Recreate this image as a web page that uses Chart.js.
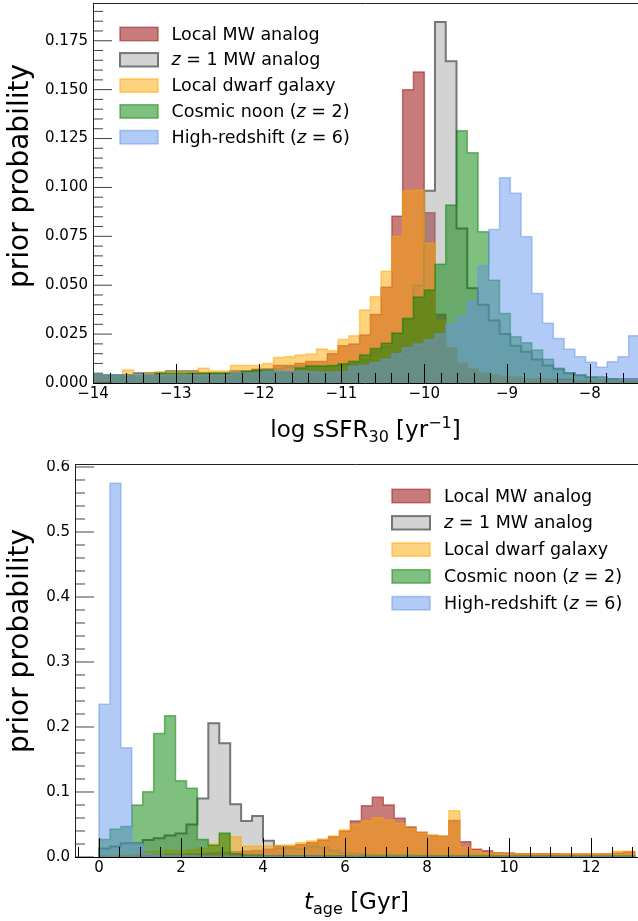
<!DOCTYPE html>
<html><head><meta charset="utf-8">
<script src="https://cdn.jsdelivr.net/npm/chart.js@4.4.1/dist/chart.umd.min.js"></script>
<style>
html,body{margin:0;padding:0;background:#fff;}
#wrap{position:relative;width:638px;height:921px;overflow:hidden;background:#fff;}
canvas{position:absolute;left:0;display:block;}
#c1{top:0;} #c2{top:460px;}
</style></head><body>
<div id="wrap"><canvas id="c1" width="638" height="460"></canvas><canvas id="c2" width="638" height="461"></canvas></div>
<script>
// ---------- data ----------
const seriesLabels = ['Local MW analog', 'z = 1 MW analog', 'Local dwarf galaxy', 'Cosmic noon (z = 2)', 'High-redshift (z = 6)'];

// top panel: log sSFR_30 histogram, bins start at sfrBinStart with width sfrBinWidth
const sfrBinStart = -14.03;
const sfrBinWidth = 0.13;
const sfrLocalMW = [0.003,0.003,0.003,0.004,0.003,0.004,0.004,0.004,0.004,0.005,0.005,
  0.005,0.005,0.006,0.006,0.007,0.007,0.009,0.009,0.010,0.011,
  0.011,0.015,0.019,0.020,0.0245,0.035,0.049,0.0853,0.150,0.159,
  0.087,0.035,0.018,0.010,0.007,0.005,0.004,0.003,0.003,0.002,
  0.002,0.002,0.002,0.002,0.001,0.001,0.001,0.001,0.001,0.001];
const sfrZ1MW = [0.004,0.004,0.004,0.004,0.005,0.005,0.005,0.006,0.006,0.006,0.005,
  0.005,0.005,0.006,0.006,0.006,0.007,0.007,0.008,0.008,0.009,
  0.009,0.0087,0.0095,0.011,0.0118,0.0156,0.0185,0.0254,0.033,0.0497,
  0.0983,0.1846,0.1645,0.079,0.0484,0.040,0.032,0.025,0.019,0.016,
  0.012,0.009,0.007,0.005,0.004,0.003,0.003,0.002,0.002,0.002];
const sfrDwarf = [0.0037,0.0035,0.0035,0.0066,0.0041,0.0049,0.0058,0.0058,0.0058,0.0058,0.0075,
  0.0061,0.0061,0.0089,0.0089,0.009,0.010,0.013,0.0134,0.0143,0.0148,
  0.0174,0.0165,0.0223,0.0242,0.0373,0.0441,0.0572,0.075,0.0983,0.0986,
  0.0714,0.032,0.018,0.010,0.007,0.005,0.004,0.003,0.003,0.002,
  0.002,0.002,0.001,0.001,0.001,0.001,0.001,0.001,0.001,0.001];
const sfrNoon = [0.004,0.004,0.004,0.004,0.004,0.004,0.005,0.005,0.005,0.005,0.005,
  0.005,0.005,0.005,0.006,0.0066,0.0066,0.0058,0.0058,0.0077,0.0087,
  0.0087,0.009,0.0099,0.011,0.0143,0.0177,0.0203,0.0254,0.033,0.044,
  0.0475,0.0607,0.091,0.129,0.1177,0.0773,0.0526,0.0356,0.0237,0.0206,
  0.0169,0.0121,0.0075,0.0053,0.004,0.003,0.002,0.002,0.001,0.001];
const sfrHighz = [0.004,0.004,0.004,0.004,0.004,0.004,0.004,0.004,0.004,0.004,0.004,
  0.004,0.004,0.005,0.005,0.005,0.006,0.006,0.006,0.006,0.0058,
  0.0055,0.0055,0.0058,0.0085,0.009,0.0104,0.0121,0.015,0.018,0.020,
  0.022,0.025,0.030,0.034,0.042,0.060,0.0785,0.105,0.097,0.0748,
  0.0458,0.0305,0.0228,0.0172,0.0134,0.0106,0.008,0.0109,0.0134,0.0242];

// bottom panel: t_age histogram (Gyr)
const ageBinStart = 0;
const ageBinWidth = 4 / 15;
const ageLocalMW = [0.001,0.001,0.002,0.002,0.003,0.003,0.004,0.004,0.005,0.005,
  0.006,0.007,0.008,0.009,0.010,0.012,0.014,0.016,0.019,0.022,
  0.026,0.031,0.040,0.0554,0.079,0.0918,0.080,0.0595,0.046,0.038,
  0.033,0.032,0.056,0.0236,0.0118,0.0097,0.0067,0.006,0.005,0.005,
  0.005,0.005,0.0048,0.0046,0.0046,0.0046,0.005,0.006,0.008];
const ageZ1MW = [0.013,0.016,0.021,0.021,0.026,0.029,0.033,0.036,0.050,0.090,
  0.2056,0.175,0.081,0.0554,0.063,0.025,0.016,0.013,0.012,0.016,
  0.015,0.010,0.006,0.005,0.004,0.003,0.003,0.003,0.003,0.002,
  0.002,0.002,0.002,0.002,0.002,0.002,0.0015,0.0015,0.0015,0.0015,
  0.0015,0.001,0.001,0.001,0.001,0.001,0.001,0.001,0.001];
const ageDwarf = [0.001,0.002,0.003,0.005,0.008,0.009,0.010,0.010,0.011,0.013,
  0.020,0.035,0.031,0.017,0.017,0.017,0.018,0.0185,0.022,0.0246,
  0.0277,0.0323,0.0415,0.0503,0.0559,0.0605,0.0569,0.0518,0.0441,0.0374,
  0.0338,0.0323,0.0713,0.0149,0.0097,0.0067,0.0056,0.005,0.005,0.0048,
  0.0046,0.0046,0.0045,0.0045,0.0045,0.0045,0.005,0.009,0.009];
const ageNoon = [0.027,0.043,0.047,0.080,0.1005,0.190,0.2174,0.1174,0.1056,0.027,
  0.018,0.037,0.005,0.003,0.003,0.002,0.002,0.002,0.002,0.002,
  0.0015,0.0015,0.0015,0.001,0.001,0.001,0.001,0.001,0.001,0.001,
  0.001,0.001,0.001,0.001,0.001,0.001,0.001,0.001,0.001,0.001,
  0.001,0.001,0.001,0.001,0.001,0.001,0.001,0.001,0.001];
const ageHighz = [0.235,0.575,0.168,0.021,0.005,0.003,0.002,0.002,0.002,0.001,
  0.001,0.001,0.001,0.001,0.001,0.001,0.001,0.001,0.001,0.001,
  0.0005,0.0005,0.0005,0.0005,0.0005,0.0005,0.0005,0.0005,0.0005,0.0005,
  0.0005,0.0005,0.0005,0.0005,0.0005,0.0005,0.0005,0.0005,0.0005,0.0005,
  0.0005,0.0005,0.0005,0.0005,0.0005,0.0005,0.0005,0.0005,0.0005];

// axis ticks
const sfrTickValues = [-14, -13, -12, -11, -10, -9, -8];
const ageTickValues = [0, 2, 4, 6, 8, 10, 12];
const probTicksTop = [0, 0.025, 0.05, 0.075, 0.1, 0.125, 0.15, 0.175];
const probTicksBottom = [0, 0.1, 0.2, 0.3, 0.4, 0.5, 0.6];

// ---------- styling ----------
const FONT = "'DejaVu Sans'";
const styles = [
  {fill: 'rgba(165,42,42,0.62)', edge: 'rgba(165,42,42,0.62)', lw: 1.5},
  {fill: 'rgba(128,128,128,0.35)', edge: 'rgb(118,118,118)', lw: 2},
  {fill: 'rgba(255,165,0,0.5)', edge: 'rgba(255,165,0,0.5)', lw: 1.5},
  {fill: 'rgba(0,128,0,0.5)', edge: 'rgba(0,128,0,0.5)', lw: 1.5},
  {fill: 'rgba(100,149,237,0.5)', edge: 'rgba(100,149,237,0.5)', lw: 1.5}
];

function histPoints(values, start, width) {
  const pts = [{x: start, y: 0}];
  values.forEach((v, i) => pts.push({x: start + i * width, y: v}));
  const end = start + values.length * width;
  pts.push({x: end, y: values[values.length - 1]});
  pts.push({x: end, y: 0});
  return pts;
}

function makeDatasets(seriesList, start, width) {
  // Chart.js draws index 0 last, so reverse to put the last series on top
  const ds = seriesList.map((vals, i) => ({
    label: seriesLabels[i],
    data: histPoints(vals, start, width),
    stepped: 'before',
    fill: 'origin',
    backgroundColor: styles[i].fill,
    borderColor: styles[i].edge,
    borderWidth: styles[i].lw,
    pointRadius: 0,
    tension: 0,
    clip: 0
  }));
  return ds.reverse();
}

function drawRich(ctx, parts, x, y, align) {
  let total = 0;
  parts.forEach(p => { ctx.font = p.font; p.w = ctx.measureText(p.t).width; total += p.w; });
  let cx = align === 'center' ? x - total / 2 : x;
  parts.forEach(p => { ctx.font = p.font; ctx.fillText(p.t, cx, y + (p.dy || 0)); cx += p.w; });
}

function legendParts(i, size) {
  const n = `${size}px ${FONT}`, it = `italic ${size}px ${FONT}`;
  if (i === 1) return [{t: 'z', font: it}, {t: ' = 1 MW analog', font: n}];
  if (i === 3) return [{t: 'Cosmic noon (', font: n}, {t: 'z', font: it}, {t: ' = 2)', font: n}];
  if (i === 4) return [{t: 'High-redshift (', font: n}, {t: 'z', font: it}, {t: ' = 6)', font: n}];
  return [{t: seriesLabels[i], font: n}];
}

function mplPlugin(cfg) {
  return {
    id: 'mpl',
    afterDatasetsDraw(chart) {
      const {ctx, chartArea: a} = chart;
      const xs = chart.scales.x, ys = chart.scales.y;
      ctx.save();
      ctx.lineWidth = 1;
      ctx.strokeStyle = '#000';
      const xMinor = [];
      for (let v = cfg.xMinorStart; v <= xs.max + 1e-9; v += cfg.xMinorStep) xMinor.push(v);
      ctx.beginPath();
      xMinor.forEach(v => {
        const isMajor = cfg.xMajor.some(m => Math.abs(m - v) < 1e-6);
        const px = Math.round(xs.getPixelForValue(v)) + 0.5;
        if (px < a.left || px > a.right) return;
        ctx.moveTo(px, a.bottom); ctx.lineTo(px, a.bottom - (isMajor ? 19 : 10));
      });
      ctx.stroke();
      ctx.strokeStyle = '#444';
      const yMinor = [];
      for (let v = 0; v <= ys.max + 1e-9; v += cfg.yMinorStep) yMinor.push(v);
      ctx.beginPath();
      yMinor.forEach(v => {
        const isMajor = cfg.yMajor.some(m => Math.abs(m - v) < 1e-6);
        const py = ys.getPixelForValue(v);
        ctx.moveTo(a.left, py); ctx.lineTo(a.left + (isMajor ? 19 : 10), py);
      });
      ctx.stroke();
      ctx.strokeStyle = '#222';
      ctx.beginPath();
      ctx.moveTo(a.left + 0.5, a.top); ctx.lineTo(a.left + 0.5, a.bottom);
      ctx.moveTo(a.left, a.top + 0.5); ctx.lineTo(a.right, a.top + 0.5);
      ctx.stroke();
      ctx.strokeStyle = '#000';
      ctx.beginPath();
      ctx.moveTo(a.left, Math.round(a.bottom) + 0.5); ctx.lineTo(a.right, Math.round(a.bottom) + 0.5);
      ctx.stroke();
      ctx.restore();
    },
    afterDraw(chart) {
      const {ctx, chartArea: a} = chart;
      ctx.save();
      ctx.fillStyle = '#000';
      ctx.textBaseline = 'alphabetic';
      drawRich(ctx, cfg.xTitle, (a.left + a.right) / 2, cfg.xTitleY, 'center');
      ctx.save();
      ctx.translate(cfg.yTitleX, cfg.yTitleY);
      ctx.rotate(-Math.PI / 2);
      ctx.font = `28px ${FONT}`;
      ctx.textAlign = 'center';
      ctx.fillText('prior probability', 0, 0);
      ctx.restore();
      const L = cfg.legend;
      ctx.textBaseline = 'middle';
      ctx.textAlign = 'left';
      for (let i = 0; i < 5; i++) {
        const cy = L.y0 + i * L.dy;
        ctx.fillStyle = styles[i].fill;
        ctx.fillRect(L.x, cy - 6.7, 38, 13.4);
        ctx.strokeStyle = styles[i].edge;
        ctx.lineWidth = styles[i].lw;
        ctx.strokeRect(L.x, cy - 6.7, 38, 13.4);
        ctx.fillStyle = '#000';
        drawRich(ctx, legendParts(i, 17.5), L.tx, cy + 1, 'left');
      }
      ctx.restore();
    }
  };
}

function makeChart(canvasId, o) {
  return new Chart(document.getElementById(canvasId), {
    type: 'line',
    data: {datasets: makeDatasets(o.series, o.binStart, o.binWidth)},
    options: {
      responsive: false, animation: false, devicePixelRatio: 1,
      layout: {padding: {top: o.padTop, left: 0, right: 0, bottom: 0}},
      plugins: {legend: {display: false}, tooltip: {enabled: false}},
      scales: {
        x: {
          type: 'linear', min: o.xMin, max: o.xMax,
          grid: {display: false, drawTicks: false}, border: {display: false},
          afterBuildTicks: s => { s.ticks = o.xTicks.map(v => ({value: v})); },
          ticks: {padding: 2, color: '#000', font: {family: 'DejaVu Sans', size: 15}, maxRotation: 0, autoSkip: false,
            callback: v => (v < 0 ? '\u2212' + Math.abs(v) : String(v))},
          afterFit: s => { s.height = o.xAxisH; s.paddingLeft = 0; s.paddingRight = 0; }
        },
        y: {
          type: 'linear', min: 0, max: o.yMax,
          grid: {display: false, drawTicks: false}, border: {display: false},
          afterBuildTicks: s => { s.ticks = o.yTicks.map(v => ({value: v})); },
          ticks: {padding: 5, color: '#000', font: {family: 'DejaVu Sans', size: 15}, autoSkip: false,
            callback: v => v.toFixed(o.yDec)},
          afterFit: s => { s.width = o.yAxisW; s.paddingTop = 0; s.paddingBottom = 0; }
        }
      }
    },
    plugins: [mplPlugin(o.deco)]
  });
}

makeChart('c1', {
  series: [sfrLocalMW, sfrZ1MW, sfrDwarf, sfrNoon, sfrHighz],
  binStart: sfrBinStart, binWidth: sfrBinWidth,
  xMin: -14, xMax: -7.418, yMax: 0.1943,
  xTicks: sfrTickValues, yTicks: probTicksTop, yDec: 3,
  padTop: 3, xAxisH: 77, yAxisW: 93,
  deco: {
    xMinorStart: -14, xMinorStep: 0.2, xMajor: sfrTickValues,
    yMinorStep: 0.005, yMajor: probTicksTop,
    xTitle: [
      {t: 'log sSFR', font: `23px ${FONT}`},
      {t: '30', font: `16px ${FONT}`, dy: 5},
      {t: ' [yr', font: `23px ${FONT}`},
      {t: '\u22121', font: `16px ${FONT}`, dy: -9},
      {t: ']', font: `23px ${FONT}`}
    ],
    xTitleY: 437, yTitleX: 28, yTitleY: 176,
    legend: {x: 120, tx: 171.5, y0: 34, dy: 25.8}
  }
});

makeChart('c2', {
  series: [ageLocalMW, ageZ1MW, ageDwarf, ageNoon, ageHighz],
  binStart: ageBinStart, binWidth: ageBinWidth,
  xMin: -0.585, xMax: 13.146, yMax: 0.6046,
  xTicks: ageTickValues, yTicks: probTicksBottom, yDec: 1,
  padTop: 4, xAxisH: 64, yAxisW: 75,
  deco: {
    xMinorStart: -0.5, xMinorStep: 0.5, xMajor: ageTickValues,
    yMinorStep: 0.02, yMajor: probTicksBottom,
    xTitle: [
      {t: 't', font: `italic 23px ${FONT}`},
      {t: 'age', font: `16px ${FONT}`, dy: 5},
      {t: ' [Gyr]', font: `23px ${FONT}`}
    ],
    xTitleY: 449, yTitleX: 28, yTitleY: 181,
    legend: {x: 392, tx: 444, y0: 36, dy: 26.8}
  }
});
</script>
</body></html>
